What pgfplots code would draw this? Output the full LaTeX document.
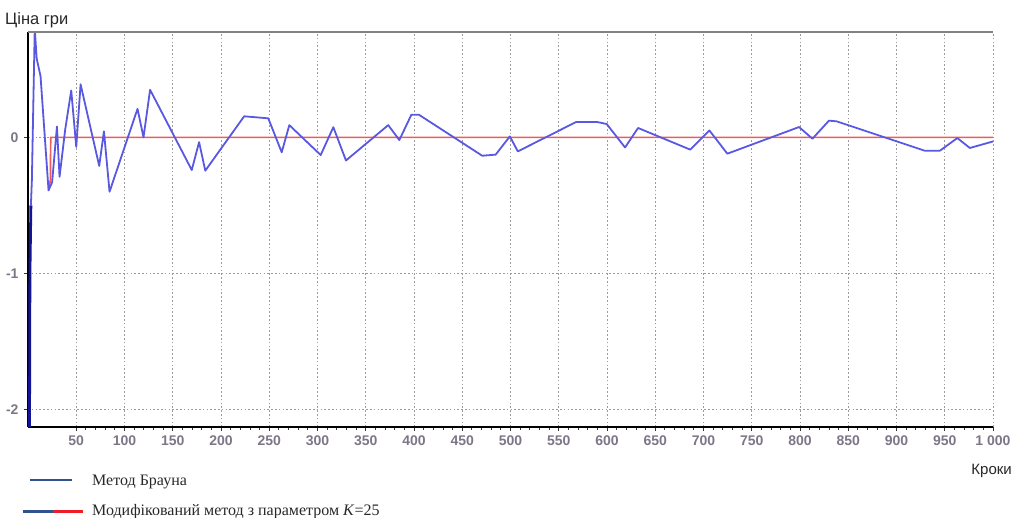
\documentclass[border=0pt]{standalone}
\usepackage{fontspec}
\setmainfont{Liberation Serif}
\newfontfamily\arialf{Liberation Sans}
\usepackage{pgfplots}
\pgfplotsset{compat=1.18}
\definecolor{lineblue}{RGB}{88,88,225}
\definecolor{darkblue}{RGB}{20,20,150}
\definecolor{linered}{RGB}{240,90,90}
\definecolor{legblue}{RGB}{50,82,140}
\definecolor{legred}{RGB}{238,30,40}
\definecolor{gridgray}{RGB}{155,155,155}
\definecolor{topgray}{RGB}{130,130,130}
\definecolor{tickgray}{RGB}{125,118,135}
\definecolor{titlegray}{RGB}{40,40,40}
\begin{document}
\begin{tikzpicture}
\path[use as bounding box] (-28pt,-91pt) rectangle (994pt,427pt);
\begin{axis}[
  at={(0pt,0pt)}, anchor=south west,
  width=965pt, height=395pt, scale only axis,
  xmin=0, xmax=1000, ymin=-2.13, ymax=0.775,
  axis lines*=left,
  x axis line style={-, black, line width=2.2pt},
  y axis line style={-, black, line width=2.8pt},
  xtick={50,100,...,1000},
  xticklabels={50,100,150,200,250,300,350,400,450,500,550,600,650,700,750,800,850,900,950,1 000},
  ytick={-2,-1,0},
  yticklabels={-2,-1,0},
  minor x tick num=4,
  tick align=outside,
  major tick length=4pt, minor tick length=3pt,
  tick style={black!80, line width=0.9pt},
  xticklabel style={font=\arialf\bfseries\fontsize{14}{14}\selectfont, text=tickgray, yshift=-1pt},
  yticklabel style={font=\arialf\bfseries\fontsize{14}{14}\selectfont, text=tickgray, xshift=-2pt},
  grid=major,
  major grid style={draw=gridgray, dash pattern=on 1.6pt off 2.2pt, line width=1pt},
  clip=true,
]
\addplot[linered, line width=1.7pt] coordinates {
(21.3,-0.39) (23.3,-0.31) (23.5,0) (1000,0)
};
\addplot[darkblue, line width=2.8pt] coordinates {
(1.5,-2.3) (2,-1.0) (3,-0.5)
};
\addplot[lineblue, line width=1.8pt, line join=round] coordinates {
(3,-0.5) (4,-0.32) (7,0.80) (9,0.58) (13,0.45) (21.3,-0.39) (25,-0.33) (30,0.08) (32.7,-0.29) (38.6,0.06) (44.8,0.345) (50,-0.07) (54.5,0.39) (73.8,-0.21) (78.7,0.044) (84.5,-0.40) (113.5,0.21) (119.7,0) (126.5,0.35) (169.7,-0.24) (177.3,-0.035) (183.7,-0.245) (224,0.155) (249,0.14) (262.9,-0.11) (270.8,0.09) (303.3,-0.13) (316.4,0.075) (329.5,-0.17) (373.3,0.09) (384.8,-0.02) (397.3,0.167) (405,0.167) (470.7,-0.135) (484.6,-0.127) (499.3,0.007) (507.6,-0.103) (568,0.113) (589.8,0.113) (599.7,0.098) (618.7,-0.074) (632.2,0.069) (686.2,-0.09) (706.1,0.051) (724.7,-0.12) (799,0.076) (812.9,-0.01) (830,0.123) (837.9,0.118) (929.2,-0.098) (945,-0.098) (963,-0.005) (976,-0.078) (1000,-0.03)
};
\draw[topgray, line width=1.2pt] (rel axis cs:0,1) -- (rel axis cs:1,1);
\end{axis}
\node[anchor=base west, font=\arialf\fontsize{16.5}{16.5}\selectfont, text=titlegray, inner sep=0pt] at (-23pt,402.5pt) {Ціна гри};
\node[anchor=base east, font=\arialf\fontsize{15}{15}\selectfont, text=titlegray, inner sep=0pt] at (984pt,-48pt) {Кроки};
\draw[legblue, line width=2.8pt] (2pt,-53pt) -- (44pt,-53pt);
\node[anchor=base west, font=\fontsize{16}{16}\selectfont, text=titlegray, inner sep=0pt] at (64pt,-59pt) {Метод Брауна};
\draw[legblue, line width=2.8pt] (-5.3pt,-84.7pt) -- (25.3pt,-84.7pt);
\draw[legred, line width=2.8pt] (25.3pt,-84.7pt) -- (55.3pt,-84.7pt);
\node[anchor=base west, font=\fontsize{16}{16}\selectfont, text=titlegray, inner sep=0pt] at (64pt,-88.7pt) {Модифікований метод з параметром \textit{K}=25};
\end{tikzpicture}
\end{document}
